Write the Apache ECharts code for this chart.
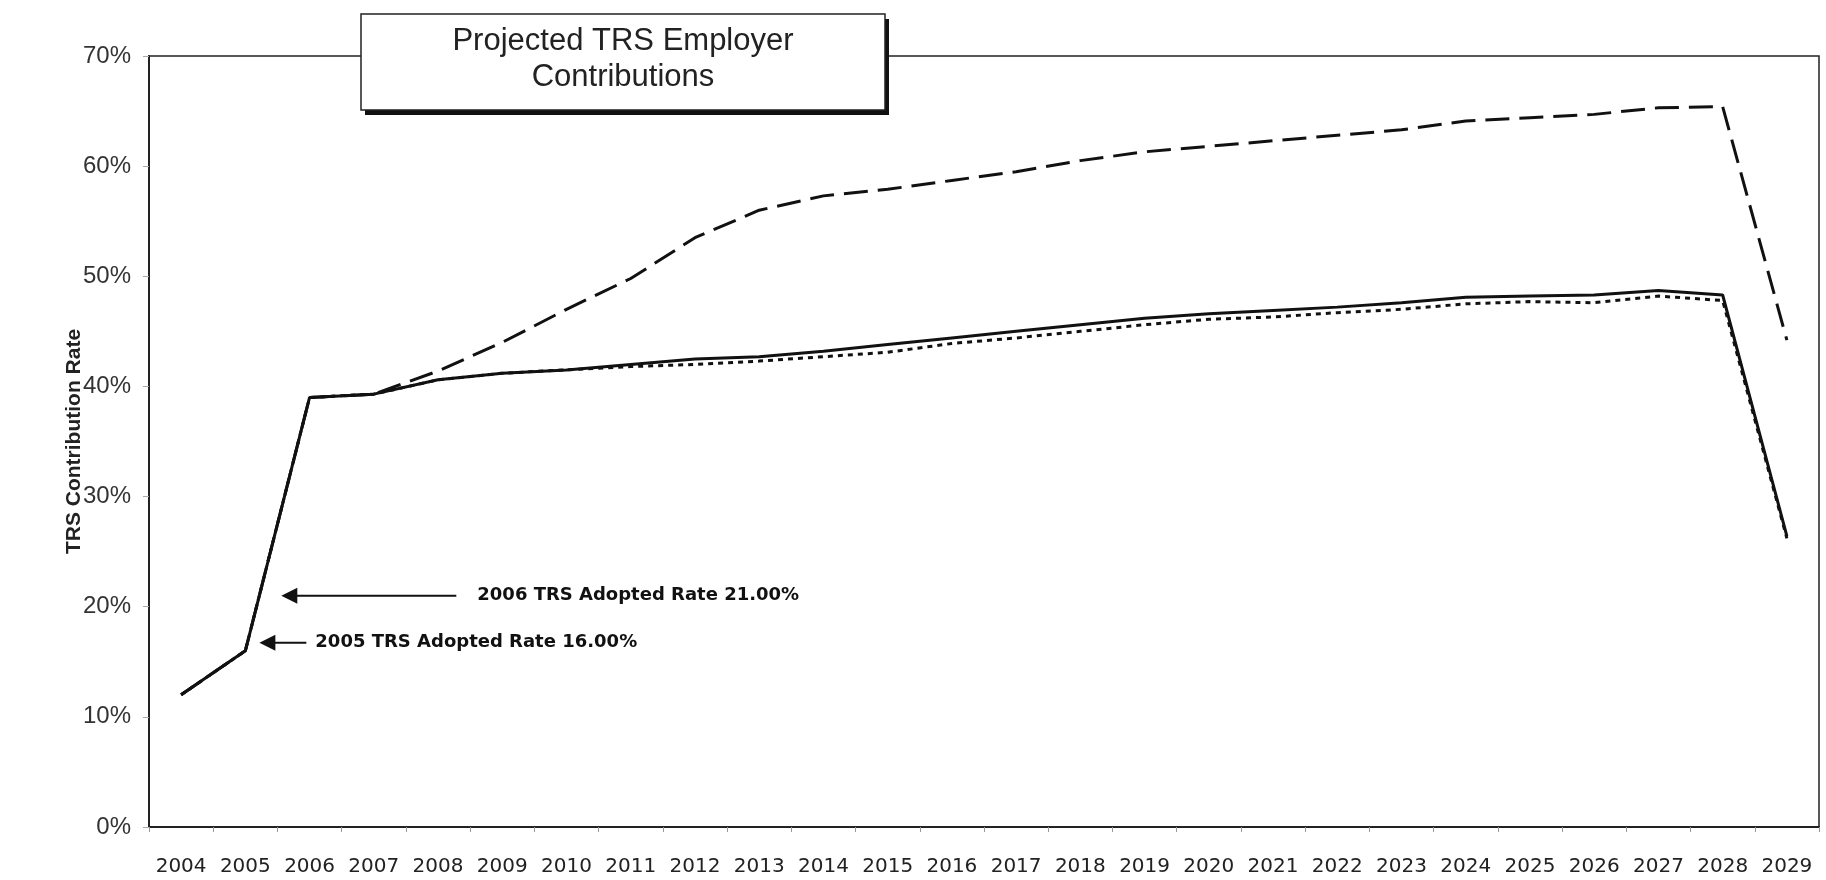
<!DOCTYPE html>
<html>
<head>
<meta charset="utf-8">
<script src="https://cdn.jsdelivr.net/npm/echarts@6/dist/echarts.min.js"></script>
<style>html,body{margin:0;padding:0;background:#fff;}#c{width:1826px;height:880px;}</style>
</head>
<body>
<div id="c"></div>
<script>
const years = ['2004','2005','2006','2007','2008','2009','2010','2011','2012','2013','2014','2015','2016','2017','2018','2019','2020','2021','2022','2023','2024','2025','2026','2027','2028','2029'];
const solidRates = [12.0,16.0,39.0,39.3,40.6,41.2,41.5,42.0,42.5,42.7,43.2,43.8,44.4,45.0,45.6,46.2,46.6,46.9,47.2,47.6,48.1,48.2,48.3,48.7,48.3,26.4];
const dashedRates = [12.0,16.0,39.0,39.3,41.4,44.0,47.0,49.8,53.5,56.0,57.3,57.9,58.7,59.5,60.5,61.3,61.8,62.3,62.8,63.3,64.1,64.4,64.7,65.3,65.4,44.2];
const dottedRates = [12.0,16.0,39.0,39.3,40.6,41.2,41.5,41.8,42.0,42.3,42.7,43.1,43.9,44.4,45.0,45.6,46.1,46.3,46.7,47.0,47.5,47.7,47.6,48.2,47.8,26.2];
const yTicks = [0,10,20,30,40,50,60,70];
const titleLines = ['Projected TRS Employer','Contributions'];
const note2006 = {label:'2006 TRS Adopted Rate 21.00%', value:21.0, from:1, to:2};
const note2005 = {label:'2005 TRS Adopted Rate 16.00%', value:16.0, index:1};

const chart = echarts.init(document.getElementById('c'));
const font = '"Liberation Sans", Arial, sans-serif';
const wide = '"DejaVu Sans", sans-serif';
chart.setOption({
  backgroundColor:'#fff',
  animation:false,
  grid:{left:149,right:7,top:56,bottom:53,show:true,borderColor:'#222',borderWidth:1.5,backgroundColor:'transparent'},
  xAxis:{type:'category',data:years,boundaryGap:true,
    axisLine:{lineStyle:{color:'#222',width:2}},
    axisTick:{show:true,length:5,lineStyle:{color:'#999'}},
    axisLabel:{color:'#222',fontFamily:wide,fontSize:20,margin:30,interval:0,hideOverlap:false}},
  yAxis:{type:'value',min:0,max:70,interval:10,
    name:'TRS Contribution Rate',nameLocation:'middle',nameGap:64,nameMoveOverlap:false,
    nameTextStyle:{fontFamily:font,fontSize:21,fontWeight:'bold',color:'#222'},
    axisLine:{show:true,lineStyle:{color:'#222',width:2}},
    axisTick:{show:true,length:6,lineStyle:{color:'#aaa'}},
    splitLine:{show:false},
    axisLabel:{color:'#333',fontFamily:font,fontSize:24,margin:18,formatter:v=>yTicks.includes(v)?v+'%':''}},
  series:[
    {name:'Low',type:'line',data:dottedRates,symbol:'none',z:2,lineStyle:{color:'#111',width:3,type:[5,5]}},
    {name:'High',type:'line',data:dashedRates,symbol:'none',z:3,lineStyle:{color:'#111',width:3,type:[24,10]}},
    {name:'Base',type:'line',data:solidRates,symbol:'none',z:4,lineStyle:{color:'#111',width:3}}
  ]
});

function px(i,v){return chart.convertToPixel({gridIndex:0},[i,v]);}
const a = px(note2006.from, solidRates[note2006.from]);
const b = px(note2006.to, solidRates[note2006.to]);
const f = (note2006.value - solidRates[note2006.from])/(solidRates[note2006.to]-solidRates[note2006.from]);
const tip1 = [a[0]+f*(b[0]-a[0])+22, px(0,note2006.value)[1]];
const c5 = px(note2005.index, note2005.value);
const tip2 = [c5[0]+14, c5[1]-8];
function arrow(tip,len,text,gap){
  return [
    {type:'polygon',shape:{points:[[tip[0],tip[1]],[tip[0]+16,tip[1]-8],[tip[0]+16,tip[1]+8]]},style:{fill:'#111'},z:10},
    {type:'line',shape:{x1:tip[0]+14,y1:tip[1],x2:tip[0]+len,y2:tip[1]},style:{stroke:'#111',lineWidth:2},z:10},
    {type:'text',x:tip[0]+gap,y:tip[1],style:{text:text,font:'bold 18px '+wide,fill:'#111',verticalAlign:'middle'},z:10}
  ];
}
const bx=361,by=14,bw=524,bh=96;
chart.setOption({graphic:[
  {type:'rect',shape:{x:bx+4,y:by+5,width:bw,height:bh},style:{fill:'#111'},z:19},
  {type:'rect',shape:{x:bx,y:by,width:bw,height:bh},style:{fill:'#fff',stroke:'#222',lineWidth:1.5},z:20},
  {type:'text',x:bx+bw/2,y:by+bh/2-3,style:{text:titleLines.join('\n'),font:'31px '+font,fill:'#222',align:'center',verticalAlign:'middle',lineHeight:36},z:21},
  ...arrow(tip1,175,note2006.label,196),
  ...arrow(tip2,47,note2005.label,56)
]});
</script>
</body>
</html>
